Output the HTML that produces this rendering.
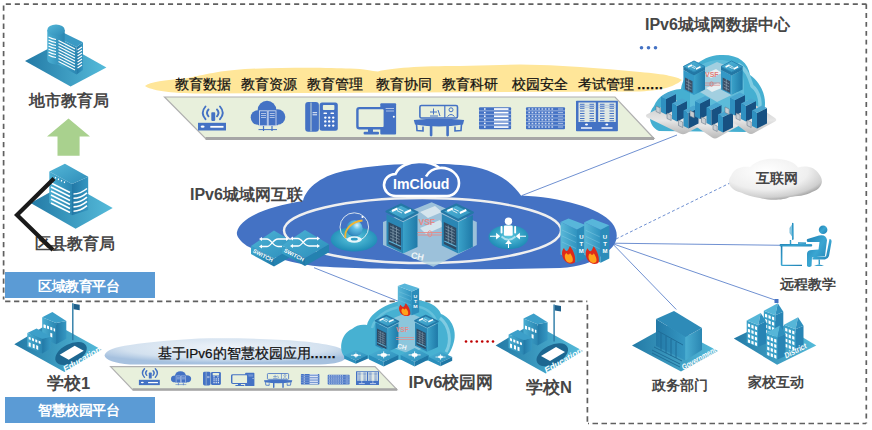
<!DOCTYPE html>
<html><head><meta charset="utf-8">
<style>
html,body{margin:0;padding:0;background:#fff;width:872px;height:430px;overflow:hidden}
body{position:relative;font-family:"Liberation Sans",sans-serif}
svg{position:absolute;left:0;top:0}
.t{position:absolute;white-space:nowrap;line-height:1;color:#464646}
.b{font-weight:bold}
.box{position:absolute;background:#5b9bd5;color:#fff;font-weight:bold;font-size:14px;letter-spacing:-0.5px;text-indent:-3px;text-align:center}
</style></head><body>
<svg width="872" height="430" viewBox="0 0 872 430">
 <defs>
  <linearGradient id="gBase" x1="0" y1="0" x2="1" y2="0"><stop offset="0" stop-color="#237aa6"/><stop offset="1" stop-color="#55bbda"/></linearGradient>
  <linearGradient id="gFace" x1="0" y1="0" x2="1" y2="0"><stop offset="0" stop-color="#4aaed2"/><stop offset="1" stop-color="#2a86b2"/></linearGradient>
  <linearGradient id="gSide" x1="0" y1="0" x2="1" y2="0"><stop offset="0" stop-color="#2278a6"/><stop offset="1" stop-color="#3597c2"/></linearGradient>
  <linearGradient id="gTop" x1="0" y1="0" x2="1" y2="1"><stop offset="0" stop-color="#54b7d8"/><stop offset="1" stop-color="#2e8cb8"/></linearGradient>
  <g id="school">
   <path d="M495.6 345.5 L532.8 323.2 L583 351.1 L545.8 373.4 Z" fill="url(#gBase)"/>
   <!-- track -->
   <ellipse cx="552.3" cy="354.8" rx="17" ry="9.5" transform="rotate(-27 552.3 354.8)" fill="#1d6791"/>
   <path d="M541 356 L556 347 L565 352 L550 361 Z" fill="#fff"/>
   <!-- flag -->
   <rect x="553.4" y="304.5" width="1.4" height="37" fill="#2a7aa6"/>
   <path d="M554.8 305 L561 306 L561 311.5 L554.8 310.5 Z" fill="#1f5f8a"/>
   <!-- tall building -->
   <path d="M523.5 318.6 L537.4 324.2 L537.4 345.5 L523.5 339 Z" fill="url(#gFace)"/>
   <path d="M537.4 324.2 L547.6 322.3 L547.6 340 L537.4 345.5 Z" fill="url(#gSide)"/>
   <path d="M523.5 318.6 L533.7 313.4 L547.6 322.3 L537.4 324.2 Z" fill="#3c9fc9"/>
   <g fill="#fff"><rect x="525" y="326" width="2" height="3" transform="skewY(22)" transform-origin="525 326"/></g>
   <path d="M525 325.5 l2 .8 v3 l-2 -.8z M528.3 326.8 l2 .8 v3 l-2 -.8z M531.6 328.1 l2 .8 v3 l-2 -.8z M534.9 329.4 l1.5 .6 v3 l-1.5 -.6z" fill="#fff"/>
   <path d="M531.6 334 l2 .8 v4 l-2 -.8z" fill="#fff"/>
   <!-- short building -->
   <path d="M508.6 334.4 L523.5 340 L523.5 354.8 L508.6 348 Z" fill="url(#gFace)"/>
   <path d="M523.5 340 L531.8 338.1 L531.8 350 L523.5 354.8 Z" fill="url(#gSide)"/>
   <path d="M508.6 334.4 L517.9 329.7 L531.8 338.1 L523.5 340 Z" fill="#3c9fc9"/>
   <path d="M510 338 l2 .8 v2.6 l-2 -.8z M513.3 339.3 l2 .8 v2.6 l-2 -.8z M516.6 340.6 l2 .8 v2.6 l-2 -.8z M519.9 341.9 l2 .8 v2.6 l-2 -.8z M510 343.5 l2 .8 v4 l-2 -.8z M514 345 l2 .8 v4 l-2 -.8z M517.5 346.4 l2 .8 v4 l-2 -.8z" fill="#fff"/>
   <text x="0" y="0" transform="translate(546.5 373.5) rotate(-30)" font-family="Liberation Sans" font-style="italic" font-weight="bold" font-size="8.6" fill="#fff" textLength="42" lengthAdjust="spacingAndGlyphs">Education</text>
  </g>

  <g id="ic1">
   <rect x="198" y="122.8" width="28" height="7.7" fill="#4472c4"/>
   <ellipse cx="202.6" cy="126.7" rx="2" ry="1.1" fill="#fff"/>
   <rect x="210.3" y="125.9" width="13.2" height="1.8" fill="#fff"/>
   <rect x="211.3" y="112.2" width="3.9" height="8.7" rx="0.8" fill="#4472c4"/>
   <g fill="none" stroke="#4472c4" stroke-width="1.9" stroke-linecap="round">
    <path d="M205.5 106.5 Q200 112.8 205.5 119.2"/><path d="M208.5 109.5 Q205.5 112.8 208.5 116.3"/>
    <path d="M220 106.5 Q225.5 112.8 220 119.2"/><path d="M217 109.5 Q220 112.8 217 116.3"/>
   </g>
  </g>
  <g id="ic2">
   <g fill="#4472c4"><circle cx="267" cy="110" r="9.3"/><circle cx="258" cy="117.5" r="7.3"/><circle cx="277.5" cy="117" r="7.8"/><rect x="258" y="113" width="20" height="12.2"/></g>
   <g fill="#4472c4" stroke="#c9d6ee" stroke-width="0.9"><rect x="259.5" y="110.8" width="7.8" height="15"/><rect x="268.2" y="110.8" width="7.8" height="15"/></g>
   <g stroke="#c9d6ee" stroke-width="0.8"><path d="M261 113.5h5 M261 115.5h5 M261 117.5h5 M269.7 113.5h5 M269.7 115.5h5 M269.7 117.5h5"/></g>
   <path d="M258.5 129.6 H277" stroke="#4472c4" stroke-width="1"/>
   <path d="M263.5 126 V131 M272 126 V131" stroke="#4472c4" stroke-width="1.2"/>
  </g>
  <g id="ic3">
   <rect x="305.2" y="102" width="13.7" height="29.8" rx="3" fill="#4472c4"/>
   <path d="M311 102.5 V131.3" stroke="#e8f0dc" stroke-width="0.8"/>
   <rect x="319.6" y="102.6" width="18.2" height="28.1" rx="2.5" fill="#4472c4"/>
   <rect x="322.9" y="104.9" width="11.5" height="5.1" rx="0.8" fill="#e8f0dc"/>
   <path d="M312.6 112.7h4.5 M312.6 114.8h4.5" stroke="#fff" stroke-width="0.9"/>
   <g fill="#fff"><rect x="323.5" y="112.5" width="3.5" height="1.6" rx=".6"/><rect x="330.5" y="112.5" width="3.5" height="1.6" rx=".6"/>
    <circle cx="325.3" cy="117.6" r="1.2"/><circle cx="329.2" cy="117.6" r="1.2"/><circle cx="333.2" cy="117.6" r="1.2"/>
    <circle cx="325.3" cy="121.4" r="1.2"/><circle cx="329.2" cy="121.4" r="1.2"/><circle cx="333.2" cy="121.4" r="1.2"/>
    <circle cx="325.3" cy="125.6" r="1.2"/><circle cx="329.2" cy="125.6" r="1.2"/><circle cx="333.2" cy="125.6" r="1.2"/></g>
  </g>
  <g id="ic4">
   <rect x="380.3" y="103.2" width="15.8" height="31.3" rx="1" fill="#4472c4"/>
   <path d="M384 108.5 h10 M384 111 h10" stroke="#c9d6ee" stroke-width="0.8"/>
   <circle cx="393.8" cy="116.8" r="1" fill="#fff"/>
   <rect x="357.4" y="108.1" width="27.4" height="20.2" rx="2" fill="#e8f0dc" stroke="#4472c4" stroke-width="2.4"/>
   <rect x="368" y="129" width="5" height="3.5" fill="#4472c4"/>
   <rect x="363.6" y="131.8" width="15.4" height="2.7" rx="1" fill="#4472c4"/>
  </g>
  <g id="ic5">
   <rect x="419.9" y="105.5" width="37.6" height="12.5" rx="1.5" fill="#e8f0dc" stroke="#4472c4" stroke-width="1.6"/>
   <path d="M444.8 105.5 V118" stroke="#4472c4" stroke-width="1.2"/>
   <g stroke="#4472c4" stroke-width="1" fill="none"><path d="M430 112 h7 M433.5 108.5 v6 M430 116 h8 M438 110 l2 6"/><circle cx="451" cy="109.8" r="2"/><path d="M447.5 116.5 q3.5 -4 7 0"/></g>
   <path d="M413.8 120 Q439 117.5 464.1 120 L463 124.5 Q439 128.5 415 124.5 Z" fill="#4472c4"/>
   <path d="M416.5 124 L417 130.5 L423 131 L423 126.5" fill="none" stroke="#4472c4" stroke-width="1.6"/>
   <path d="M461.5 124 L461 130.5 L455 131 L455 126.5" fill="none" stroke="#4472c4" stroke-width="1.6"/>
   <path d="M429.8 126 h2.6 v9.5 q-1.3 1.8 -2.6 0 z M446.3 126 h2.6 v9.5 q-1.3 1.8 -2.6 0 z" fill="#4472c4"/>
  </g>
  <g id="ic6">
   <rect x="479" y="107.2" width="32.1" height="22" rx="1" fill="#4472c4"/>
   <path d="M479 110.8h32 M479 114.4h32 M479 118h32 M479 121.6h32 M479 125.2h32" stroke="#c9d6ee" stroke-width="0.6"/>
   <g fill="#fff"><rect x="484" y="108.3" width="1.6" height="1.4"/><rect x="484" y="111.9" width="1.6" height="1.4"/><rect x="484" y="115.5" width="1.6" height="1.4"/><rect x="484" y="119.1" width="1.6" height="1.4"/><rect x="484" y="122.7" width="1.6" height="1.4"/><rect x="484" y="126.3" width="1.6" height="1.4"/>
   <rect x="494" y="108.2" width="14.5" height="1.7"/><rect x="494" y="111.8" width="14.5" height="1.7"/><rect x="494" y="115.4" width="14.5" height="1.7"/><rect x="494" y="119" width="14.5" height="1.7"/><rect x="494" y="122.6" width="14.5" height="1.7"/><rect x="494" y="126.2" width="14.5" height="1.7"/></g>
  </g>
  <g id="ic7">
   <rect x="526" y="107.2" width="39" height="22" rx="1" fill="#4472c4"/>
   <path d="M526 110.8h39 M526 114.4h39 M526 118h39 M526 121.6h39 M526 125.2h39" stroke="#c9d6ee" stroke-width="0.6"/>
   <g stroke="#c9d6ee" stroke-width="1.5" stroke-dasharray="1.7 1.6"><path d="M528.3 109h26 M528.3 112.6h26 M528.3 116.2h26 M528.3 119.8h26 M528.3 123.4h26 M528.3 127h26"/></g>
   <path d="M558 109h5 M558 112.6h5 M558 116.2h5 M558 119.8h5 M558 123.4h5 M558 127h5" stroke="#c9d6ee" stroke-width="0.8"/>
  </g>
  <g id="ic8">
   <rect x="576" y="100.8" width="41.9" height="30.4" rx="0.8" fill="#4472c4"/>
   <rect x="578.5" y="102.5" width="17.3" height="19.5" fill="#dfe8e4"/>
   <rect x="598.2" y="102.5" width="17.6" height="19.5" fill="#dfe8e4"/>
   <path d="M580 104.3H584.5 M589.5 104.3H594 M600 104.3H604.5 M609.5 104.3H614 M580 106.3H584.5 M589.5 106.3H594 M600 106.3H604.5 M609.5 106.3H614 M580 108.3H584.5 M589.5 108.3H594 M600 108.3H604.5 M609.5 108.3H614 M580 111H584.5 M589.5 111H594 M600 111H604.5 M609.5 111H614 M580 113.5H584.5 M589.5 113.5H594 M600 113.5H604.5 M609.5 113.5H614 M580 116H584.5 M589.5 116H594 M600 116H604.5 M609.5 116H614 M580 118.5H584.5 M589.5 118.5H594 M600 118.5H604.5 M609.5 118.5H614 M580 120.8H584.5 M589.5 120.8H594 M600 120.8H604.5 M609.5 120.8H614" stroke="#4472c4" stroke-width="1"/><path d="M579 105.3h16 M598.5 105.3h17 M579 107.3h16 M598.5 107.3h17" stroke="#8aa6d8" stroke-width="0.5"/>
   <g fill="#fff"><ellipse cx="586.5" cy="124.5" rx="1.5" ry="1"/><ellipse cx="606.8" cy="124.5" rx="1.5" ry="1"/><rect x="581" y="127" width="11" height="2" fill="#c9d6ee"/><rect x="601.5" y="127" width="11" height="2" fill="#c9d6ee"/></g>
  </g>
 </defs>

 <!-- dashed borders -->
 <g fill="none" stroke="#606060" stroke-width="1.7">
  <path d="M5.8 4.2 H866.5" stroke-dasharray="5.1 3.91"/>
  <path d="M3.6 5.4 V299.5" stroke-dasharray="5.3 3.8"/>
  <path d="M866.3 4.2 V423.5" stroke-dasharray="4.8 4.1"/>
  <path d="M866 423.5 H588" stroke-dasharray="5.5 3.5" stroke-dashoffset="2"/>
  <path d="M5.1 301.4 H587.3" stroke-dasharray="5.3 3.64"/>
  <path d="M587.4 304.7 V423.5" stroke-dasharray="5.5 3.8"/>
 </g>
 <!-- connection lines -->
 <g stroke="#5f83cc" stroke-width="0.9" fill="none">
  <path d="M522 195.5 L677 135"/>
  <path d="M612.4 243.2 L782.3 245.3"/>
  <path d="M612.4 243.6 L676.3 309.5"/>
  <path d="M612.4 243.6 L775 300"/>
  <path d="M314 267.7 L399 301.5"/>
  <path d="M616 239 L730 183" stroke-dasharray="3 2.2"/>
 </g>
 <!-- green arrow -->
 <path d="M68.5 118.5 L90 136.5 H79.6 V155.7 H57.5 V136.5 H47 Z" fill="#a9d18e"/>
 <!-- yellow band -->
 <path d="M145 86 C150 82 165 80 185 78.5 C200 76 215 71 245 69 C290 67 330 67.5 350 68.5 C365 69 372 71 378 71.5 C390 68 420 66 460 66 L520 64.5 C560 65 600 68 640 72 C665 74 678 77 682 80 C675 86 665 90 640 91.5 L200 93.5 C170 93.5 150 90 145 86 Z" fill="#ffe699"/>
 <!-- top strip -->
 <path d="M164.5 97 H615 L654 138.5 H205.5 Z" fill="#e8f0dc" stroke="#b0b0b0" stroke-width="1.2"/>
 <path d="M205.5 138.5 H654" stroke="#a6a6a6" stroke-width="3"/>
 <!-- strip icons -->
 <use href="#ic1"/>
 <use href="#ic2"/>
 <use href="#ic3"/>
 <use href="#ic4"/>
 <use href="#ic5"/>
 <use href="#ic6"/>
 <use href="#ic7"/>
 <use href="#ic8"/>
 <!-- school light blue band -->
 <defs><radialGradient id="gBand" cx="0.5" cy="0.35" r="0.6" gradientTransform="translate(0 0) scale(1 1)"><stop offset="0" stop-color="#eef3f9"/><stop offset="0.7" stop-color="#d3e1ef"/><stop offset="1" stop-color="#a6c1df"/></radialGradient></defs>
 <path d="M104.5 355.3 C106 350 115 347 130 345 C150 342 180 339 210 338.3 C260 338 310 340 333 346 C342 348 348 352 347.5 356 C345 362 335 364 320 364.5 L130 364.5 C115 363.5 105 360 104.5 355.3 Z" fill="url(#gBand)"/>
 <!-- school strip -->
 <path d="M110.6 366.7 H375 L397 389.6 H132.6 Z" fill="#e8f0dc" stroke="#b0b0b0" stroke-width="1.2"/>
 <path d="M132.6 389.6 H397" stroke="#a6a6a6" stroke-width="2.5"/>
 <use href="#ic1" transform="translate(138.9 368.7) scale(0.7464 0.6833) translate(-198 -106.5)"/>
 <use href="#ic2" transform="translate(171 371.2) scale(0.5843 0.4628) translate(-250.8 -100.7)"/>
 <use href="#ic3" transform="translate(203 371.7) scale(0.5491 0.4631) translate(-305.2 -102)"/>
 <use href="#ic4" transform="translate(231 372.7) scale(0.5865 0.4281) translate(-356.2 -103.2)"/>
 <use href="#ic5" transform="translate(264 373.2) scale(0.5626 0.4656) translate(-413.8 -104.8)"/>
 <use href="#ic6" transform="translate(300.9 373.9) scale(0.5763 0.4773) translate(-479 -107.2)"/>
 <use href="#ic7" transform="translate(327.7 374.7) scale(0.5615 0.4409) translate(-526 -107.2)"/>
 <use href="#ic8" transform="translate(356 371.2) scale(0.5489 0.4572) translate(-576 -100.8)"/>
 <!-- data center -->
 <defs>
  <linearGradient id="gPlat" x1="0" y1="0" x2="0" y2="1"><stop offset="0" stop-color="#c4c4c4"/><stop offset="0.6" stop-color="#e6e6e6"/><stop offset="1" stop-color="#b8b8b8"/></linearGradient>
  <g id="cube">
   <path d="M0 2.5 L5 5 L5 20.5 L0 18 Z" fill="#2f90c0"/>
   <path d="M5 5 L15 0 L15 15.5 L5 20.5 Z" fill="#175182"/>
   <path d="M0 2.5 L10 -2.5 L15 0 L5 5 Z" fill="#4aa6d0"/>
   <path d="M-5 12 L-0.8 14 L-0.8 19.5 L-5 17.5 Z" fill="#c8cdd2" stroke="#5a6e80" stroke-width="0.5"/>
  </g>
 </defs>
 <path d="M659 131 C649 127 647 114 654 106 C658 96 668 90 681 89 C684 72 700 56 720 55 C738 54 748 62 750 75 C760 82 768 96 764 112 C762 124 755 130 745 132 Z" fill="#45afd1"/>
 <path d="M738 64 C748 70 750 80 752 86 C760 92 762 104 758 118" fill="none" stroke="#8fd3e6" stroke-width="3.5" opacity="0.8"/>
 <path d="M690 80 C694 66 706 60 720 60 C734 60 744 70 744 84 L744 118 L690 118 Z" fill="#6cc3de" opacity="0.6"/>
 <path d="M646.5 114.5 Q645 116 647 117.5 L680 133.5 Q683 135 686 133.5 L706 123 L676 100 Z" fill="url(#gPlat)"/>
 <path d="M693 121.5 Q691 123 693 124.5 L712 137.5 Q715 139.5 718 137.5 L742 124 L712 106 Z" fill="url(#gPlat)"/>
 <path d="M722 114 L748 133 Q751 135 754 133 L775 121.5 Q777.5 120 775 118 L748 100 Z" fill="url(#gPlat)"/>
 <!-- core switches -->
 <path d="M700 70 L717 62 L738 70 L738 92 L717 102 L700 92 Z" fill="#b9d6e2" opacity="0.75"/>
 <path d="M705 74 L716 69 L722 73 L711 78 Z M706 88 L718 83 L724 87 L712 92 Z" fill="#eef3f5" opacity="0.9"/>
 <text x="705" y="76.5" font-family="Liberation Sans" font-size="7" font-weight="bold" fill="#e07c78">VSF</text>
 <path d="M703 83 H720 M703 85.2 H720" stroke="#d96a66" stroke-width="0.6"/><ellipse cx="711.5" cy="84.1" rx="1.6" ry="2.4" fill="none" stroke="#d96a66" stroke-width="0.6"/>
 <g id="core">
  <path d="M683.4 70 L694 75.5 L694 95 L683.4 89.5 Z" fill="#3398c6"/>
  <path d="M694 75.5 L705 70 L705 89.5 L694 95 Z" fill="url(#gSwSide)"/>
  <path d="M685 77.5 L692.5 81.3 L692.5 93 L685 89.2 Z" fill="#3a5068"/>
  <g stroke="#9fb3c2" stroke-width="0.5"><path d="M686 81 L691.5 83.8 M686 84 L691.5 86.8 M686 87 L691.5 89.8 M688.7 79 V90.5"/></g>
  <path d="M683.4 66.5 L694 72 L705 66.5 L705 70 L694 75.5 L683.4 70 Z" fill="#2378a5"/>
  <path d="M683.4 66.5 L694 61 L705 66.5 L694 72 Z" fill="url(#gSrvTop)" stroke="#2a86b4" stroke-width="1" stroke-linejoin="round"/>
  <path d="M688 67 L692 65 M696 69 L700.5 66.8" stroke="#fff" stroke-width="1.6"/><path d="M692.5 65.5 L696 67.5 M691.5 66.8 L695 68.6" stroke="#fff" stroke-width="0.7"/>
 </g>
 <use href="#core" transform="translate(37.6 0)"/>
 <!-- cubes -->
 <use href="#cube" x="661" y="94"/>
 <use href="#cube" x="672" y="101"/>
 <use href="#cube" x="683.5" y="108"/>
 <use href="#cube" x="695" y="98.5"/>
 <use href="#cube" x="706.5" y="105"/>
 <use href="#cube" x="718" y="112"/>
 <use href="#cube" x="730" y="95"/>
 <use href="#cube" x="741" y="101"/>
 <use href="#cube" x="752" y="108"/>
 <!-- dots -->
 <g fill="#4472c4"><circle cx="641.5" cy="47.8" r="1.8"/><circle cx="648.5" cy="47.8" r="1.8"/><circle cx="655.5" cy="47.8" r="1.8"/></g>
 <!-- main blue cloud -->
 <path d="M237 232 C240 218 265 207 303 201 C306 188 322 174 350 170 C380 163 440 162 470 166 C495 170 512 182 521 195.5 C560 197 600 208 612 223 C620 233 618 246 605 253 C595 262 580 267 560 268 C480 270 380 270 320 266.5 C290 264 262 253 247 246 C240 241 236 236 237 232 Z" fill="#4472c4"/>
 <ellipse cx="422.5" cy="230.5" rx="138.5" ry="32.5" fill="none" stroke="#efefef" stroke-width="2.4"/>
 <!-- ImCloud logo -->
 <g fill="none" stroke="#fff" stroke-width="2.6">
  <path d="M396 196 C388 196 384 190 384 185 C384 179 389 174 395.5 174 C399 166 409 162 419 162 C429 162 436 165 439.5 168 C451 167 459 175 459 183 C459 190 454 196 447 196 Z" fill="#4472c4"/>
  <path d="M426 176.5 C429 171 434 168.5 439.5 168"/>
 </g>
 <text x="393" y="189.2" font-family="Liberation Sans" font-weight="bold" font-size="14.2" fill="#fff" textLength="56.5" lengthAdjust="spacingAndGlyphs">ImCloud</text>
 <!-- switches -->
 <defs>
  <linearGradient id="gSwTop" x1="0" y1="0" x2="1" y2="1"><stop offset="0" stop-color="#4db3d6"/><stop offset="1" stop-color="#2b8dba"/></linearGradient>
  <linearGradient id="gSwSide" x1="0" y1="0" x2="1" y2="0"><stop offset="0" stop-color="#3aa2c9"/><stop offset="1" stop-color="#1f79a8"/></linearGradient>
  <g id="sw">
   <path d="M282 245.6 L305 258 L305 266 L282 253.6 Z" fill="url(#gSwSide)"/>
   <path d="M305 258 L329 244.3 L329 252.3 L305 266 Z" fill="#2482b0"/>
   <path d="M282 245.6 L305 230 L329 244.3 L305 258 Z" fill="url(#gSwTop)"/>
   <g fill="none" stroke="#fff" stroke-width="1.3">
    <path d="M292 238.5 H298 C302 238.5 304 246 309 246 H318 M292 246 H298 C302 246 304 238.5 309 238.5 H318"/>
   </g>
   <path d="M290 238.5 l3 -2 v4z M290 246 l3 -2 v4z M320 238.5 l-3 -2 v4z M320 246 l-3 -2 v4z" fill="#fff"/>
   <text transform="translate(283.5 251.5) rotate(28)" font-family="Liberation Sans" font-weight="bold" font-size="5.5" fill="#fff">SWITCH</text>
  </g>
  <radialGradient id="gDisc" cx="0.5" cy="0.5" r="0.5"><stop offset="0" stop-color="#6cc6e0"/><stop offset="1" stop-color="#2587b5"/></radialGradient>
  <linearGradient id="gSrvTop" x1="0" y1="0" x2="1" y2="1"><stop offset="0" stop-color="#54b9da"/><stop offset="1" stop-color="#2e8fbc"/></linearGradient>
  <g id="srv">
   <path d="M386.5 214 L403 222 L403 253.5 L386.5 245.5 Z" fill="#2a86b4"/>
   <path d="M403 222 L417.5 215 L417.5 247 L403 253.5 Z" fill="url(#gSwSide)"/>
   <path d="M388.5 222 L401 228 L401 250 L388.5 244 Z" fill="#2f4a63"/>
   <g stroke="#8fa7b8" stroke-width="0.6"><path d="M390 226 L399.5 230.5 M390 229 L399.5 233.5 M390 232 L399.5 236.5 M390 235 L399.5 239.5 M390 238 L399.5 242.5"/><path d="M393 225.5 V243 M396.5 227 V245"/></g>
   <path d="M389 241 L401 246.5" stroke="#5fb4d8" stroke-width="1.2"/>
   <path d="M386.5 211.5 L401 204.5 L417.5 212.5 L403 220 Z" fill="url(#gSrvTop)" stroke="#2478a6" stroke-width="2.2" stroke-linejoin="round"/>
   <path d="M392 211 L397.5 208.5 M404.5 213 L411 210" stroke="#fff" stroke-width="2"/><path d="M398.5 208.8 L403.5 211.2 M397 210.5 L402 213" stroke="#fff" stroke-width="0.8"/>
  </g>
  <linearGradient id="gUtm" x1="0" y1="0" x2="1" y2="0"><stop offset="0" stop-color="#5ab8d8"/><stop offset="1" stop-color="#2f93c0"/></linearGradient>
  <g id="utm">
   <path d="M560.5 222 L577 229.5 L577 262.5 L560.5 254.5 Z" fill="url(#gUtm)"/>
   <path d="M577 229.5 L585.6 225 L585.6 258.3 L577 262.5 Z" fill="#2b8cba"/>
   <path d="M560.5 222 L568.5 218.5 L585.6 225 L577 229.5 Z" fill="#58b6da"/>
   <g stroke="#8ed0e8" stroke-width="0.5" opacity="0.8"><path d="M562 230 L576 236.5 M562 236 L576 242.5 M562 242 L576 248.5"/></g>
   <g font-family="Liberation Sans" font-weight="bold" font-size="6" fill="#fff" text-anchor="middle"><text x="581.3" y="239">U</text><text x="581.3" y="246">T</text><text x="581.3" y="253">M</text></g>
   <path d="M563.5 259 C561 254 562 250 564 248 C565 251 567 252 568 250 C569 249 569 247 570 246 C573 250 576 256 575 262 C573 265 566 264 563.5 259 Z" fill="#dd2a1a"/>
   <path d="M565.5 259.5 C564 256 565 254 566.5 253 C567.5 255 569.5 255 570 253 C572 255.5 573.5 259 572.5 261.5 C571 263.5 567 263 565.5 259.5 Z" fill="#ffa11a"/>
  </g>
 </defs>
 <use href="#sw" transform="translate(-31 0.5)"/>
 <use href="#sw"/>
 <!-- orbital -->
 <defs><radialGradient id="gGlobe" cx="0.65" cy="0.3" r="0.75"><stop offset="0" stop-color="#d8f2fb"/><stop offset="0.35" stop-color="#5fbde3"/><stop offset="1" stop-color="#2a7fb8"/></radialGradient>
 <radialGradient id="gDisc2" cx="0.5" cy="0.45" r="0.55"><stop offset="0" stop-color="#5cc9df"/><stop offset="1" stop-color="#1e8ab5"/></radialGradient></defs>
 <ellipse cx="354" cy="239.3" rx="23.3" ry="12.2" fill="url(#gDisc2)"/>
 <circle cx="354.5" cy="228.5" r="8.2" fill="url(#gGlobe)"/>
 <circle cx="354.3" cy="227.1" r="14.3" fill="none" stroke="#e6eef2" stroke-width="0.9"/>
 <circle cx="362.5" cy="217" r="1.1" fill="#fff"/>
 <path d="M345.5 238 C344 231 350 222 362.5 220.5" fill="none" stroke="#f2b431" stroke-width="1.8"/>
 <ellipse cx="354.3" cy="239.5" rx="7.5" ry="3.2" fill="#e8f6fa"/>
 <ellipse cx="354.3" cy="239.2" rx="3.5" ry="1.4" fill="#2f9cc4"/>
 <!-- CH -->
 <path d="M383 222 L431.6 202.2 L476.8 222 L476.8 245 L433.3 266.7 L383 245 Z" fill="#b3d4e0" opacity="0.8"/>
 <path d="M420 212 L435 206 L442 212 L428 218 Z M420 228 L440 220 L444 226 L426 234 Z" fill="#e4eef2" opacity="0.8"/>
 <use href="#srv"/>
 <use href="#srv" transform="translate(55.3 0)"/>
 <text x="418.5" y="224.5" font-family="Liberation Sans" font-weight="bold" font-size="8.5" fill="#e58a88">VSF</text>
 <path d="M417.5 232.5 H442 M417.5 235 H442" stroke="#e58a88" stroke-width="0.9"/>
 <ellipse cx="429.8" cy="233.8" rx="2" ry="3" fill="none" stroke="#e58a88" stroke-width="0.9"/>
 <text transform="translate(410.5 258) rotate(12)" font-family="Liberation Sans" font-weight="bold" font-size="9" fill="#eef4f7">CH</text>
 <!-- user icon -->
 <ellipse cx="508.5" cy="237.1" rx="20" ry="12.1" fill="url(#gDisc2)"/>
 <circle cx="508.5" cy="221.3" r="3.7" fill="#fff"/>
 <rect x="503.9" y="225.5" width="8.8" height="10.2" rx="1.2" fill="#fff"/>
 <rect x="500.6" y="226" width="1.9" height="7.5" rx=".8" fill="#fff"/>
 <rect x="514.2" y="226" width="1.9" height="7.5" rx=".8" fill="#fff"/>
 <path d="M501.5 236.5 Q508.5 243 515.5 236.5" fill="none" stroke="#a8e0ee" stroke-width="1.8"/>
 <g stroke="#fff" stroke-width="1.1" fill="#fff">
  <path d="M490 236.2 H498 M518 236.2 H526 M508.5 242 V248" fill="none"/>
  <path d="M499.3 236.2 l-2.6 -2.2 v4.4z M516.7 236.2 l2.6 -2.2 v4.4z M508.5 240.8 l-2.2 2.6 h4.4z"/>
 </g>
 <!-- UTM -->
 <use href="#utm"/>
 <use href="#utm" transform="translate(23.7 0.3)"/>
 <!-- campus cloud -->
 <path d="M346 358 C338 352 340 334 352 329 C356 325 362 324 367 325 C370 312 390 300 412 300 C428 300 438 306 441 314 C452 318 458 332 453 345 C450 354 445 360 438 361 Z" fill="#47b1d2"/>
 <path d="M440 318 C450 326 452 342 446 352" fill="none" stroke="#8fd2e6" stroke-width="3" opacity="0.8"/>
 <path d="M372 328 C376 314 392 306 410 306 C424 306 432 312 436 320" fill="none" stroke="#7ccbe3" stroke-width="2.5" opacity="0.6"/>
 <path d="M377 325 L408 312 L437 325 L437 342 L410 354 L377 342 Z" fill="#a9cfdf" opacity="0.7"/>
 <g transform="translate(375.5 315.5) scale(0.74) translate(-386.5 -204.5)"><use href="#srv"/></g>
 <g transform="translate(415 315.5) scale(0.74) translate(-386.5 -204.5)"><use href="#srv"/></g>
 <text x="396" y="332" font-family="Liberation Sans" font-weight="bold" font-size="6.5" fill="#e58a88">VSF</text>
 <path d="M396 337.5 H414 M396 339.5 H414" stroke="#e58a88" stroke-width="0.7"/>
 <text transform="translate(397 348) rotate(12)" font-family="Liberation Sans" font-weight="bold" font-size="6.5" fill="#eef4f7">CH</text>
 <g transform="translate(397.8 283.5) scale(0.85 0.72) translate(-560.5 -218.5)"><use href="#utm"/></g>
 <!-- POE switches -->
 <defs>
  <g id="poe">
   <path d="M0 6 L14 0 L28 6 L14 12 Z" fill="url(#gSwTop)"/>
   <path d="M0 6 L14 12 L14 16 L0 10 Z" fill="#2b8fbc"/>
   <path d="M14 12 L28 6 L28 10 L14 16 Z" fill="#1f78a6"/>
   <path d="M8 6 H20 M14 3 V9" stroke="#fff" stroke-width="0.8"/>
   <ellipse cx="14" cy="6" rx="3" ry="1.6" fill="#fff"/>
  </g>
 </defs>
 <use href="#poe" transform="translate(344.2 350.1) scale(0.836 0.86)"/>
 <use href="#poe" transform="translate(369 348) scale(1.05 1.15)"/>
 <use href="#poe" transform="translate(400.6 348) scale(1.0 1.15)"/>
 <use href="#poe" transform="translate(428.8 351.5) scale(0.836 0.92)"/>
 <!-- red dots -->
 <g fill="#c00000"><circle cx="466" cy="341.5" r="1.3"/><circle cx="471.4" cy="341.5" r="1.3"/><circle cx="476.8" cy="341.5" r="1.3"/><circle cx="482.2" cy="341.5" r="1.3"/><circle cx="487.6" cy="341.5" r="1.3"/><circle cx="493" cy="341.5" r="1.3"/></g>
 <!-- internet cloud -->
 <defs>
  <radialGradient id="gNet" cx="0.4" cy="0.3" r="0.75"><stop offset="0" stop-color="#ffffff"/><stop offset="0.6" stop-color="#efefef"/><stop offset="0.85" stop-color="#cfcfcf"/><stop offset="1" stop-color="#8f8f8f"/></radialGradient>
 </defs>
 <path d="M741 192.6 C730 190 726 182 731 176 C734 168 742 166 750 167 C756 160 768 158 779 159 C790 160 796 164 798 167.5 C806 165 815 167 819 174 C824 180 823 188 812 192 C806 196 796 196 790 197 C784 200 770 201 760 198 C752 197 746 195 741 192.6 Z" fill="url(#gNet)"/>
 <!-- remote teaching -->
 <defs>
  <linearGradient id="gPer" x1="0" y1="0" x2="1" y2="1"><stop offset="0" stop-color="#1f7fb2"/><stop offset="0.5" stop-color="#3aa6d2"/><stop offset="1" stop-color="#1f7fb2"/></linearGradient>
 </defs>
 <g fill="url(#gPer)">
  <rect x="779.6" y="244" width="32.6" height="2.6" rx="1"/>
  <path d="M780.8 246 V265 Q781 266 782.5 266 H802 V264.8 H782.4 V246 Z"/>
  <path d="M792 222.8 L793.6 223.3 L793.6 239.5 L792 240 Z"/><path d="M789.5 228 L792 224.5 L792 236.5 L789.5 233 Z" opacity="0.6"/>
  <rect x="789.8" y="240" width="1.4" height="4"/>
  <rect x="798" y="242.3" width="8" height="1.6"/>
  <circle cx="823.1" cy="229.7" r="4.3"/>
  <path d="M819 235.5 Q826 234 827 240 L825 256 L812 257.5 L811.5 266 Q809 268 807 266 L807 254 Q807 250 812 250 L818.5 249.5 L819.5 242 L807.5 242 Q806 240 807.5 239 Z"/>
  <path d="M829.5 239 Q832 239 831.5 242 L829 256 Q828 259 825 259.5 L812.5 259.5 Q812 257.5 814 257 L826 256.5 Z"/>
  <rect x="818.6" y="259.5" width="1.4" height="5"/>
  <path d="M814 266 Q819 263 824 266 Z"/>
 </g>
 <!-- schools -->
 <use href="#school"/>
 <use href="#school" transform="translate(-481.3 -1.3)"/>
 <!-- building A -->
 <path d="M25 61 L61 42 L106.4 67.4 L70.6 86.5 Z" fill="url(#gBase)"/>
 <path d="M57 37 L76.5 47 L76.5 74.5 L57 64 Z" fill="url(#gFace)"/>
 <path d="M76.5 47 L83 42.3 L83 70 L76.5 74.5 Z" fill="url(#gSide)"/>
 <path d="M57 37 L64 33 L83 42.3 L76.5 47 Z" fill="#3a9ac4"/>
 <path d="M47.3 30 V59.5 A8.7 5 0 0 0 64.7 59.5 V30 Z" fill="url(#gFace)"/>
 <ellipse cx="56" cy="30" rx="8.7" ry="5.6" fill="url(#gTop)"/>
 <g stroke="#fff" stroke-width="1.1" fill="none">
  <path d="M48.5 37 q3.5 2 7.5 2.5 M48.5 40 q3.5 2 7.5 2.5 M48.5 43 q3.5 2 7.5 2.5 M48.5 46 q3.5 2 7.5 2.5 M48.5 49 q3.5 2 7.5 2.5 M48.5 52 q3.5 2 7.5 2.5 M48.5 55 q3.5 2 7.5 2.5"/>
  <path d="M58.5 40.5 L75 49 M58.5 43.5 L75 52 M58.5 46.5 L75 55 M58.5 49.5 L75 58 M58.5 52.5 L75 61 M58.5 55.5 L75 64 M58.5 58.5 L75 67 M58.5 61.5 L75 70"/>
  <path d="M77.5 50 L82 47 M77.5 53 L82 50 M77.5 56 L82 53 M77.5 59 L82 56 M77.5 62 L82 59 M77.5 65 L82 62 M77.5 68 L82 65"/>
 </g>
 <!-- building B -->
 <path d="M30.6 203 L67.6 182.5 L112.7 208 L75.6 228.7 Z" fill="url(#gBase)"/>
 <path d="M49.3 171.4 L72 184 L72 215.3 L49.3 203 Z" fill="url(#gFace)"/>
 <path d="M72 184 L88.2 176.8 L88.2 209.9 L72 215.3 Z" fill="url(#gSide)"/>
 <path d="M49.3 171.4 L64.9 163.7 L88.2 176.8 L72 184 Z" fill="url(#gTop)"/>
 <g stroke="#fff" stroke-width="1.6" fill="none">
  <path d="M51 183 L70 192.5 M51 187 L70 196.5 M51 191 L70 200.5 M51 195 L70 204.5 M51 199 L70 208.5 M51 203 L70 212.5"/>
  <path d="M73.5 194 q7 0 13.5 -5.5 M73.5 198.3 q7 0 13.5 -5.5 M73.5 202.6 q7 0 13.5 -5.5 M73.5 206.9 q7 0 13.5 -5.5 M73.5 211.2 q7 0 13.5 -5.5"/>
  <path d="M55 177.5 l1 .5 M58 179 l1 .5 M61 180.5 l1 .5 M64 182 l1 .5" stroke-width="1.5"/>
 </g>
 <!-- government -->
 <path d="M632 345.5 L669 325 L718 351 L681 371.6 Z" fill="url(#gBase)"/>
 <path d="M656 319 L685.4 337 L685.4 360.4 L656 346 Z" fill="url(#gSide)"/>
 <path d="M685.4 337 L702 328 L702 350 L685.4 360.4 Z" fill="url(#gFace)"/>
 <path d="M656 319 L674 311 L702 328 L685.4 337 Z" fill="#2e8bb8"/>
 <g stroke="#1f6d98" stroke-width="1" fill="none">
  <path d="M652 350 L680 364 M652 353 L680 367 M654 347 L682 361"/>
  <path d="M661 333 V350 M666 336 V353 M671 339 V356 M676 342 V358"/>
  <path d="M658 331 L683 345"/>
 </g>
 <text transform="translate(683.5 370) rotate(-29)" font-family="Liberation Sans" font-style="italic" font-weight="bold" font-size="7.8" fill="#fff" textLength="38" lengthAdjust="spacingAndGlyphs">Government</text>
 <!-- district -->
 <path d="M733.8 338.6 L773 319.4 L816.3 345.6 L777.1 364.8 Z" fill="url(#gBase)"/>
 <defs>
  <g id="tower">
   <path d="M0 0 L11.5 4.5 L11.5 26.5 L0 22 Z" fill="#3aa0c8"/>
   <path d="M11.5 4.5 L19.5 1 L19.5 23 L11.5 26.5 Z" fill="#2884b4"/>
   <path d="M0 0 L14 -7.5 L11.5 4.5 Z" fill="#56b6d8"/>
   <path d="M11.5 4.5 L14 -7.5 L19.5 1 Z" fill="#2f90be"/>
   <g fill="#fff">
    <path d="M1.2 3 l2.2 .85 v3.2 l-2.2 -.85z M4.7 4.35 l2.2 .85 v3.2 l-2.2 -.85z M8.2 5.7 l2.2 .85 v3.2 l-2.2 -.85z"/>
    <path d="M1.2 8.3 l2.2 .85 v3.2 l-2.2 -.85z M4.7 9.65 l2.2 .85 v3.2 l-2.2 -.85z M8.2 11 l2.2 .85 v3.2 l-2.2 -.85z"/>
    <path d="M1.2 13.6 l2.2 .85 v3.2 l-2.2 -.85z M4.7 14.95 l2.2 .85 v3.2 l-2.2 -.85z M8.2 16.3 l2.2 .85 v3.2 l-2.2 -.85z"/>
    <path d="M1.2 18.9 l2.2 .85 v3.2 l-2.2 -.85z M4.7 20.25 l2.2 .85 v3.2 l-2.2 -.85z M8.2 21.6 l2.2 .85 v3.2 l-2.2 -.85z"/>
   </g>
  </g>
 </defs>
 <use href="#tower" x="763.8" y="310.7"/>
 <use href="#tower" x="746.7" y="320.4"/>
 <use href="#tower" x="784" y="324.8"/>
 <use href="#tower" x="766" y="333"/>
 <text transform="translate(786 358.5) rotate(-27)" font-family="Liberation Sans" font-style="italic" font-weight="bold" font-size="8" fill="#fff" textLength="24" lengthAdjust="spacingAndGlyphs">District</text>
 <rect x="774.5" y="299" width="4" height="4" fill="#4472c4"/>
 <!-- chevron -->
</svg>

<div class="t b" style="left:29px;top:93px;font-size:16px">地市教育局</div>
<div class="t b" style="left:35px;top:236px;font-size:16px">区县教育局</div>
<div class="box" style="left:5px;top:272px;width:150px;height:26.4px;line-height:28px">区域教育平台</div>
<div class="box" style="left:5px;top:397px;width:150px;height:26px;line-height:27.5px">智慧校园平台</div>
<div class="t b" style="left:645px;top:16.5px;font-size:16px">IPv6城域网数据中心</div>
<div class="t b" style="left:190px;top:187px;font-size:16px">IPv6城域网互联</div>
<div class="t b" style="left:408.5px;top:374px;font-size:16.5px">IPv6校园网</div>
<div class="t b" style="left:47px;top:374.5px;font-size:16.5px">学校1</div>
<div class="t b" style="left:526px;top:378.5px;font-size:16.5px">学校N</div>
<div class="t b" style="left:756px;top:171px;font-size:14px">互联网</div>
<div class="t b" style="left:780px;top:276.5px;font-size:14px">远程教学</div>
<div class="t b" style="left:652px;top:378px;font-size:14px">政务部门</div>
<div class="t b" style="left:748px;top:375px;font-size:14px">家校互动</div>
<div class="t" style="left:175px;top:77.5px;font-size:13.5px;color:#111;-webkit-text-stroke:0.25px #111">教育数据</div>
<div class="t" style="left:241px;top:77.5px;font-size:13.5px;color:#111;-webkit-text-stroke:0.25px #111">教育资源</div>
<div class="t" style="left:307px;top:77.5px;font-size:13.5px;color:#111;-webkit-text-stroke:0.25px #111">教育管理</div>
<div class="t" style="left:376px;top:77.5px;font-size:13.5px;color:#111;-webkit-text-stroke:0.25px #111">教育协同</div>
<div class="t" style="left:442px;top:77.5px;font-size:13.5px;color:#111;-webkit-text-stroke:0.25px #111">教育科研</div>
<div class="t" style="left:512px;top:77.5px;font-size:13.5px;color:#111;-webkit-text-stroke:0.25px #111">校园安全</div>
<div class="t" style="left:577.5px;top:77.5px;font-size:13.5px;color:#111;-webkit-text-stroke:0.25px #111">考试管理 <b style="letter-spacing:0.6px">......</b></div>
<div class="t" style="left:157.5px;top:346.5px;font-size:13.5px;color:#111;-webkit-text-stroke:0.25px #111">基于IPv6的智慧校园应用<b style="letter-spacing:0.5px">......</b></div>
<svg width="872" height="430" viewBox="0 0 872 430" style="position:absolute;left:0;top:0"><path d="M54 178.5 L17 215 L53 250" fill="none" stroke="#1a1a1a" stroke-width="4.2"/></svg>
</body></html>
